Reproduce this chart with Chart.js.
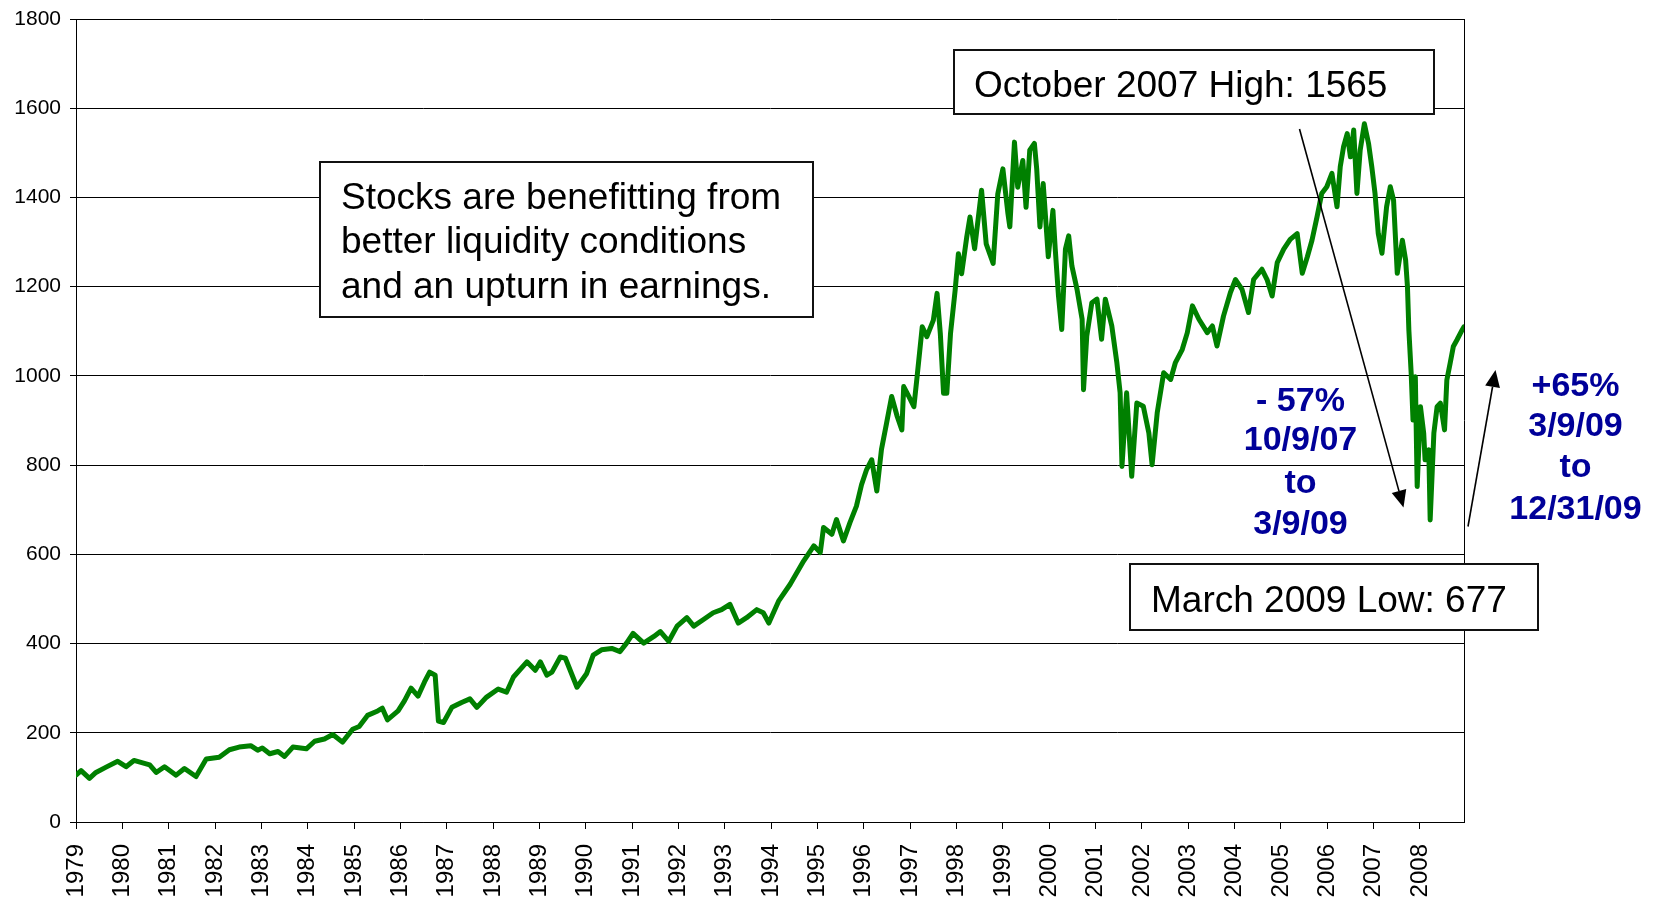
<!DOCTYPE html>
<html>
<head>
<meta charset="utf-8">
<script src="https://cdn.jsdelivr.net/npm/chart.js@4/dist/chart.umd.min.js"></script>
<style>
  html, body { margin: 0; padding: 0; background: #ffffff; }
  #wrap { position: relative; width: 1659px; height: 899px; overflow: hidden; }
  canvas { display: block; }
</style>
</head>
<body>
<div id="wrap"><canvas id="c" width="1659" height="899"></canvas></div>
<script>
// ---- Data ----
const years = [
  1979.00,1979.11,1979.29,1979.43,1979.65,1979.90,1980.08,1980.25,1980.59,1980.73,
  1980.91,1981.16,1981.34,1981.59,1981.81,1982.09,1982.31,1982.52,1982.77,1982.92,
  1983.02,1983.18,1983.36,1983.50,1983.68,1983.97,1984.15,1984.36,1984.54,1984.75,
  1984.97,1985.11,1985.29,1985.51,1985.61,1985.72,1985.95,1986.09,1986.23,1986.38,
  1986.52,1986.63,1986.75,1986.82,1986.93,1987.11,1987.32,1987.50,1987.65,1987.86,
  1988.11,1988.29,1988.44,1988.73,1988.91,1989.02,1989.16,1989.27,1989.45,1989.56,
  1989.81,1990.02,1990.16,1990.34,1990.56,1990.74,1990.88,1991.02,1991.25,1991.47,
  1991.61,1991.79,1991.97,1992.18,1992.33,1992.54,1992.75,1992.93,1993.11,1993.29,
  1993.47,1993.69,1993.83,1993.95,1994.16,1994.41,1994.70,1994.92,1995.06,1995.13,
  1995.31,1995.41,1995.56,1995.70,1995.84,1995.95,1996.06,1996.17,1996.28,1996.38,
  1996.49,1996.60,1996.72,1996.82,1996.86,1996.97,1997.08,1997.15,1997.26,1997.36,
  1997.50,1997.58,1997.65,1997.72,1997.79,1997.87,1997.97,1998.04,1998.11,1998.22,
  1998.29,1998.39,1998.54,1998.64,1998.79,1998.89,1999.00,1999.11,1999.15,1999.25,
  1999.32,1999.43,1999.50,1999.58,1999.68,1999.73,1999.80,1999.87,1999.98,2000.08,
  2000.13,2000.20,2000.27,2000.35,2000.42,2000.49,2000.60,2000.71,2000.74,2000.81,
  2000.92,2001.03,2001.13,2001.21,2001.35,2001.46,2001.53,2001.57,2001.67,2001.78,
  2001.89,2002.03,2002.15,2002.22,2002.33,2002.47,2002.62,2002.72,2002.87,2002.98,
  2003.09,2003.23,2003.41,2003.52,2003.62,2003.76,2003.91,2004.02,2004.16,2004.30,
  2004.41,2004.59,2004.70,2004.81,2004.92,2005.06,2005.20,2005.35,2005.46,2005.57,
  2005.67,2005.78,2005.88,2005.99,2006.10,2006.21,2006.28,2006.35,2006.43,2006.50,
  2006.57,2006.64,2006.71,2006.80,2006.89,2006.96,2007.03,2007.10,2007.18,2007.28,
  2007.36,2007.43,2007.51,2007.62,2007.69,2007.73,2007.76,2007.81,2007.85,2007.90,
  2007.94,2008.01,2008.08,2008.11,2008.19,2008.22,2008.30,2008.37,2008.44,2008.53,
  2008.58,2008.65,2008.72,2008.80,2008.91,2008.95
];
const values = [
  105,115,98,111,123,136,124,138,128,111,
  124,105,120,102,141,145,162,168,171,161,
  166,153,158,147,168,164,181,186,196,179,
  208,214,239,249,255,229,249,272,300,282,
  314,336,329,226,223,257,268,276,257,280,
  298,291,325,359,340,359,329,336,370,367,
  302,333,374,386,389,382,401,423,401,416,
  427,405,439,458,439,454,469,476,488,446,
  458,476,469,446,495,533,585,619,604,660,
  645,678,630,671,708,756,790,812,742,835,
  894,954,909,879,976,954,931,999,1110,1088,
  1125,1185,1095,961,961,1095,1192,1274,1229,1311,
  1356,1285,1416,1296,1252,1408,1464,1363,1334,1524,
  1423,1483,1378,1506,1521,1464,1334,1431,1267,1371,
  1284,1179,1104,1284,1314,1246,1194,1127,969,1089,
  1164,1172,1082,1172,1112,1029,962,797,962,775,
  939,932,872,801,917,1007,992,1029,1059,1097,
  1157,1127,1097,1112,1067,1134,1187,1216,1194,1142,
  1216,1239,1216,1179,1254,1284,1306,1319,1230,1267,
  1304,1357,1409,1424,1454,1379,1469,1513,1543,1491,
  1551,1409,1506,1565,1521,1469,1409,1319,1275,1379,
  1424,1394,1230,1304,1260,1200,1103,1006,901,998,
  752,931,872,812,834,677,872,931,939,879,
  991,1028,1066,1081,1103,1110
];
const tickYears = [1979,1980,1981,1982,1983,1984,1985,1986,1987,1988,1989,1990,
  1991,1992,1993,1994,1995,1996,1997,1998,1999,2000,2001,2002,2003,2004,2005,2006,2007,2008];
const yTicks = [0,200,400,600,800,1000,1200,1400,1600,1800];

const noteStocks = ["Stocks are benefitting from", "better liquidity conditions", "and an upturn in earnings."];
const noteHigh = "October 2007 High: 1565";
const noteLow = "March 2009 Low: 677";
const noteDown = ["- 57%", "10/9/07", "to", "3/9/09"];
const noteUp = ["+65%", "3/9/09", "to", "12/31/09"];

// ---- Chart ----
const FONT = "'Liberation Sans', Arial, Helvetica, sans-serif";
Chart.defaults.font.family = FONT;
Chart.defaults.color = '#000';

function arrow(ctx, x1, y1, x2, y2) {
  const ang = Math.atan2(y2 - y1, x2 - x1);
  const len = 17, hw = 7.5;
  const bx = x2 - len * Math.cos(ang), by = y2 - len * Math.sin(ang);
  ctx.beginPath();
  ctx.moveTo(x1, y1);
  ctx.lineTo(bx, by);
  ctx.lineWidth = 1.6;
  ctx.strokeStyle = '#000';
  ctx.stroke();
  ctx.beginPath();
  ctx.moveTo(x2, y2);
  ctx.lineTo(bx + hw * Math.sin(ang), by - hw * Math.cos(ang));
  ctx.lineTo(bx - hw * Math.sin(ang), by + hw * Math.cos(ang));
  ctx.closePath();
  ctx.fillStyle = '#000';
  ctx.fill();
}

function box(ctx, x, y, w, h) {
  ctx.fillStyle = '#fff';
  ctx.fillRect(x, y, w, h);
  ctx.lineWidth = 2;
  ctx.strokeStyle = '#111';
  ctx.strokeRect(x, y, w, h);
}

const annotations = {
  id: 'annotations',
  afterDraw(chart) {
    const ctx = chart.ctx;
    const a = chart.chartArea;
    ctx.save();
    // right border of plot
    ctx.beginPath();
    ctx.moveTo(Math.round(a.right) + 0.5, a.top);
    ctx.lineTo(Math.round(a.right) + 0.5, a.bottom);
    ctx.lineWidth = 1;
    ctx.strokeStyle = '#000';
    ctx.stroke();

    // arrows
    arrow(ctx, 1299.5, 129, 1403.5, 507.5);
    arrow(ctx, 1468, 526.5, 1495.5, 370);

    // text boxes
    ctx.textBaseline = 'alphabetic';
    ctx.textAlign = 'left';
    ctx.font = '37px ' + FONT;

    box(ctx, 320, 162, 493, 155);
    ctx.fillStyle = '#000';
    noteStocks.forEach((s, i) => ctx.fillText(s, 341, 209 + i * 44.4));

    box(ctx, 954, 50, 480, 64);
    ctx.fillStyle = '#000';
    ctx.fillText(noteHigh, 974, 96.5);

    box(ctx, 1130, 564, 408, 66);
    ctx.fillStyle = '#000';
    ctx.fillText(noteLow, 1151, 612);

    // blue notes
    ctx.font = 'bold 34px ' + FONT;
    ctx.fillStyle = '#000099';
    ctx.textAlign = 'center';
    ctx.textBaseline = 'middle';
    const downY = [402, 441, 484, 525];
    noteDown.forEach((s, i) => ctx.fillText(s, 1300.5, downY[i]));
    const upY = [386.5, 427, 468, 510];
    noteUp.forEach((s, i) => ctx.fillText(s, 1575.5, upY[i]));
    ctx.restore();
  }
};

new Chart(document.getElementById('c').getContext('2d'), {
  type: 'line',
  data: {
    datasets: [{
      data: years.map((x, i) => ({ x: x, y: values[i] })),
      borderColor: '#008000',
      borderWidth: 5,
      pointRadius: 0,
      tension: 0,
      fill: false,
      borderJoinStyle: 'round',
      borderCapStyle: 'round'
    }]
  },
  options: {
    responsive: false,
    animation: false,
    devicePixelRatio: 1,
    layout: { padding: { top: 19, right: 195, left: 0, bottom: 0 } },
    plugins: { legend: { display: false }, tooltip: { enabled: false } },
    scales: {
      x: {
        type: 'linear',
        min: 1979,
        max: 2008.95,
        afterBuildTicks: s => { s.ticks = tickYears.map(v => ({ value: v })); },
        afterFit: s => { s.height = 77; s.paddingLeft = 0; s.paddingRight = 0; },
        ticks: {
          minRotation: 90, maxRotation: 90, autoSkip: false, padding: 15,
          font: { size: 24, family: FONT }, color: '#000',
          callback: (v) => String(v)
        },
        grid: { drawOnChartArea: false, drawTicks: true, tickLength: 7, color: '#000', lineWidth: 1 },
        border: { display: true, color: '#000', width: 1 }
      },
      y: {
        min: 0,
        max: 1800,
        afterBuildTicks: s => { s.ticks = yTicks.map(v => ({ value: v })); },
        afterFit: s => { s.width = 76; s.paddingTop = 0; s.paddingBottom = 0; },
        ticks: {
          padding: 9, font: { size: 21, family: FONT }, color: '#000',
          callback: (v) => String(v)
        },
        grid: { color: '#000', lineWidth: 1, tickLength: 6 },
        border: { display: true, color: '#000', width: 1 }
      }
    }
  },
  plugins: [annotations]
});
</script>
</body>
</html>
